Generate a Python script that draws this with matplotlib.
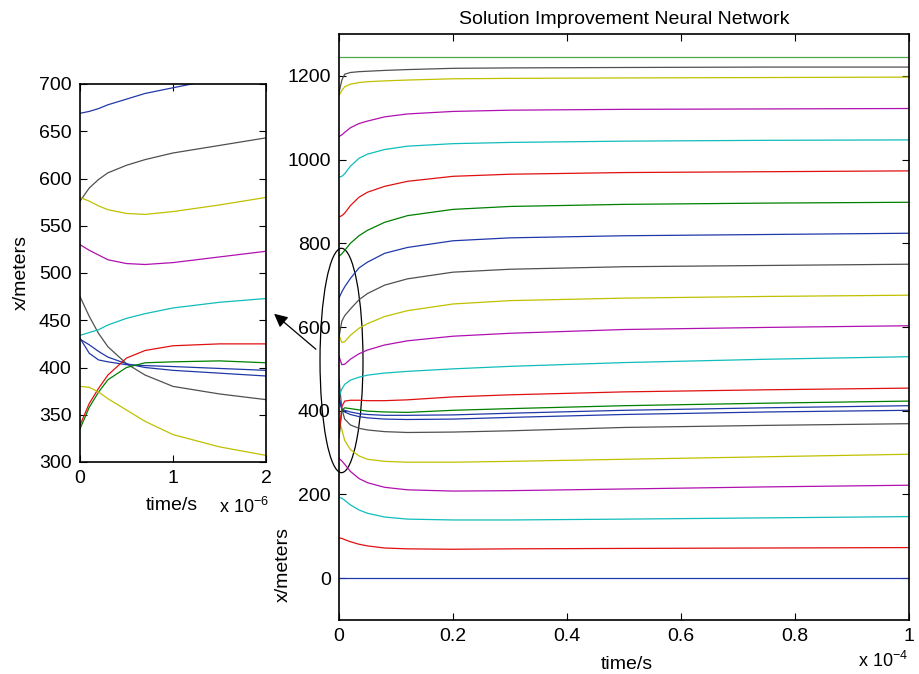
import matplotlib
matplotlib.use("Agg")
import matplotlib.pyplot as plt
from matplotlib.patches import Ellipse, FancyArrowPatch

plt.rcParams['font.family'] = ['Liberation Sans', 'DejaVu Sans']
plt.rcParams['mathtext.default'] = 'regular'

# main plot: time in units of 1e-4 s
t_main = [0, 0.005, 0.01, 0.02, 0.035, 0.05, 0.08, 0.12, 0.2, 0.3, 0.5, 0.75, 1.0]

# colours (MATLAB style)
B = '#2038a8'
G = '#008000'
R = '#e01010'
C = '#10bcbc'
M = '#b010b0'
Y = '#c0c000'
K = '#505050'

main_lines = [
    (B, [0, 0, 0, 0, 0, 0, 0, 0, 0, 0, 0, 0, 0]),
    (R, [96, 95, 92, 87, 81, 77, 72, 70, 69, 70, 71, 72, 73]),
    (C, [193, 191, 186, 175, 163, 155, 146, 141, 139, 139, 141, 144, 147]),
    (M, [286, 280, 272, 255, 238, 228, 217, 211, 208, 209, 213, 218, 222]),
    (Y, [380, 355, 329, 307, 292, 284, 279, 277, 277, 279, 284, 290, 296]),
    (K, [475, 404, 380, 366, 358, 354, 350, 348, 349, 352, 360, 365, 369]),
    (B, [430, 404, 397, 391, 386, 383, 380, 379, 380, 384, 391, 397, 401]),
    (B, [431, 403, 401, 397, 393, 391, 389, 389, 390, 394, 401, 407, 412]),
    (G, [335, 401, 407, 405, 402, 399, 397, 396, 401, 405, 412, 418, 423]),
    (R, [339, 410, 423, 425, 425, 424, 424, 426, 433, 438, 445, 450, 454]),
    (C, [434, 452, 463, 473, 480, 485, 490, 494, 500, 506, 515, 523, 529]),
    (M, [530, 510, 511, 523, 536, 545, 557, 567, 578, 585, 594, 599, 603]),
    (Y, [580, 563, 565, 580, 597, 608, 625, 639, 655, 663, 669, 673, 676]),
    (K, [576, 614, 627, 643, 665, 680, 700, 715, 731, 738, 744, 747, 750]),
    (B, [669, 684, 696, 716, 741, 755, 776, 790, 806, 813, 818, 821, 824]),
    (G, [769, 775, 783, 800, 818, 831, 850, 866, 881, 888, 893, 896, 898]),
    (R, [863, 866, 872, 890, 910, 922, 936, 948, 960, 965, 969, 971, 973]),
    (C, [958, 960, 966, 984, 1003, 1013, 1024, 1032, 1038, 1041, 1044, 1046, 1047]),
    (M, [1055, 1059, 1065, 1076, 1086, 1092, 1102, 1109, 1115, 1118, 1120, 1121, 1122]),
    (Y, [1153, 1165, 1174, 1180, 1184, 1186, 1188, 1190, 1193, 1194, 1195, 1196, 1197]),
    (K, [1160, 1190, 1204, 1208, 1210, 1211, 1213, 1215, 1218, 1219, 1220, 1221, 1221]),
    ('#4aa84a', [1245, 1245, 1245, 1245, 1245, 1245, 1245, 1245, 1245, 1245, 1245, 1245, 1245]),
]

# zoomed view: time in units of 1e-6 s
t_zoom = [0, 0.1, 0.2, 0.3, 0.5, 0.7, 1.0, 1.5, 2.0]
zoom_lines = [
    (B, [669, 671, 674, 678, 684, 690, 696, 706, 716]),
    (K, [576, 590, 599, 606, 614, 620, 627, 635, 643]),
    (Y, [580, 576, 571, 567, 563, 562, 565, 572, 580]),
    (M, [530, 524, 519, 514, 510, 509, 511, 517, 523]),
    (K, [475, 454, 436, 422, 404, 392, 380, 372, 366]),
    (C, [434, 437, 440, 445, 452, 457, 463, 469, 473]),
    (B, [431, 415, 408, 406, 403, 402, 401, 399, 397]),
    (B, [430, 424, 417, 411, 404, 400, 397, 394, 391]),
    (R, [339, 362, 378, 392, 410, 418, 423, 425, 425]),
    (G, [335, 358, 374, 387, 400, 405, 406, 407, 405]),
    (Y, [380, 379, 374, 367, 355, 343, 329, 316, 307]),
]

fs = 14

fig = plt.figure(figsize=(9.2, 6.74), dpi=100)

# ---- main axes ----
ax = fig.add_axes([339/920, 1 - 620/674, 570/920, 586/674])
for col, vals in main_lines:
    ax.plot(t_main, vals, color=col, lw=0.9)
ax.set_xlim(0, 1)
ax.set_ylim(-100, 1300)
ax.set_xticks([0, 0.2, 0.4, 0.6, 0.8, 1.0])
ax.set_xticklabels(['0', '0.2', '0.4', '0.6', '0.8', '1'])
ax.set_yticks([0, 200, 400, 600, 800, 1000, 1200])
ax.tick_params(direction='in', top=True, right=True, length=5, labelsize=fs, pad=6)
for s in ax.spines.values():
    s.set_linewidth(1.2)
ax.set_title('Solution Improvement Neural Network', fontsize=fs, pad=7)
ax.set_xlabel('time/s', fontsize=fs)
ax.xaxis.set_label_coords(0.505, -0.061)
ax.set_ylabel('x/meters', fontsize=fs)
ax.yaxis.set_label_coords(-0.082, 0.094)
ax.text(0.998, -0.052, r'x 10$^{-4}$', transform=ax.transAxes, ha='right', va='top', fontsize=fs - 1)

ell = Ellipse((0.0044, 520), 0.0754, 536, fill=False, edgecolor='k', lw=0.9, clip_on=False)
ax.add_patch(ell)

# ---- zoomed axes ----
ax2 = fig.add_axes([80/920, 1 - 462/674, 186/920, 378/674])
for col, vals in zoom_lines:
    ax2.plot(t_zoom, vals, color=col, lw=0.9)
ax2.set_xlim(0, 2)
ax2.set_ylim(300, 700)
ax2.set_xticks([0, 1, 2])
ax2.set_yticks(range(300, 701, 50))
ax2.tick_params(direction='in', top=True, right=True, length=5, labelsize=fs, pad=6)
for s in ax2.spines.values():
    s.set_linewidth(1.2)
ax2.set_xlabel('time/s', fontsize=fs)
ax2.xaxis.set_label_coords(0.495, -0.092)
ax2.set_ylabel('x/meters', fontsize=fs)
ax2.yaxis.set_label_coords(-0.27, 0.5)
ax2.text(0.88, -0.092, r'x 10$^{-6}$', transform=ax2.transAxes, ha='center', va='top', fontsize=fs - 1)

# arrow from ellipse to zoomed view
fig.patches.append(FancyArrowPatch(
    (318/920, 1 - 351/674), (272/920, 1 - 312/674), transform=fig.transFigure,
    arrowstyle='-|>', mutation_scale=20, color='k', lw=0.9))

fig.savefig('out.png', dpi=100)
